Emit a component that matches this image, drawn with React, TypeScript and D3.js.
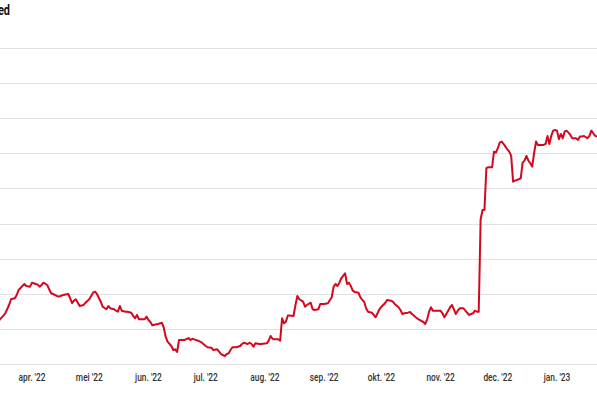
import React from "react";
import * as d3 from "d3";

// days since 15 March 2022
const days = [0,3,5,6,8,9,10,12,13,14,16,17,19,20,21,22,23,25,26,27,28,30,31,33,34,36,37,38,39,40,41,42,44,45,47,49,50,51,53,54,56,57,58,60,61,62,63,64,66,67,69,70,71,72,73,74,76,77,78,79,80,81,83,85,86,87,88,90,91,92,93,94,95,97,99,100,101,102,104,106,108,109,111,112,114,115,116,118,119,120,121,122,124,126,127,128,130,131,132,133,134,136,137,140,141,142,143,144,146,147,148,149,150,151,152,154,155,156,157,159,160,161,163,164,165,167,168,170,172,174,175,176,177,178,179,180,181,182,183,184,185,186,188,189,190,191,192,193,195,196,197,198,199,200,202,203,205,206,207,209,210,211,212,214,215,216,218,219,220,222,223,224,225,226,227,228,229,231,232,233,234,235,236,237,238,239,240,241,243,244,246,247,248,249,250,251,252,253,254,255,256,258,259,260,261,262,263,264,265,266,267,268,269,270,272,273,274,275,276,277,278,279,280,281,282,283,285,286,287,288,289,290,291,292,293,294,295,296,297,298,299,300,302,303,304,305,306,308,309,310,311,312,314];
const values = [6.27,7.22,8.40,9.22,9.36,9.83,10.54,11.11,11.40,11.11,11.01,11.58,11.40,11.30,11.01,11.25,11.58,11.25,10.64,10.07,9.97,9.69,9.59,9.79,9.87,9.97,9.36,8.65,9.02,9.22,8.73,8.26,8.40,8.73,9.22,10.16,10.30,9.97,8.87,8.16,7.79,8.26,7.93,7.79,7.59,7.45,8.26,7.59,7.45,7.45,7.31,6.84,6.51,6.98,6.37,6.37,6.37,6.74,6.27,5.98,5.51,5.60,5.70,5.88,5.23,3.89,3.18,2.56,1.99,2.09,1.71,3.42,3.42,3.42,3.70,3.42,3.60,3.50,3.32,3.03,2.56,2.38,2.32,1.99,2.09,1.75,1.42,1.14,1.42,1.52,1.99,2.38,2.38,2.56,2.85,3.03,2.85,3.03,2.85,2.46,2.95,2.85,2.85,2.95,3.32,3.99,3.60,3.52,3.52,3.32,6.51,5.80,6.03,6.90,6.90,6.84,8.40,9.69,9.22,8.87,8.16,8.40,8.73,7.79,7.69,7.79,8.55,8.55,8.65,9.50,11.01,11.40,11.11,11.58,12.21,12.54,12.92,11.40,11.58,11.11,10.44,10.26,10.16,9.50,9.12,8.87,7.93,7.45,7.31,6.98,6.65,7.22,7.79,8.16,8.69,9.12,9.02,8.87,8.55,8.08,7.69,7.12,7.22,7.31,7.41,7.12,6.65,6.45,6.27,5.98,5.70,6.37,7.45,8.08,7.59,7.59,7.59,7.59,7.22,6.65,7.12,7.59,8.08,8.40,7.79,7.12,7.59,7.93,7.93,7.59,6.98,7.12,7.22,7.59,7.45,7.45,20.61,21.94,21.94,27.88,28.02,28.02,30.24,30.10,30.73,31.52,31.67,31.34,30.95,30.58,30.24,29.63,25.97,26.11,26.31,26.45,28.68,28.96,29.63,28.96,28.59,28.11,30.01,31.67,31.20,31.20,31.20,31.34,32.48,31.34,32.48,33.23,33.33,33.23,32.01,32.76,32.15,33.09,33.23,32.95,32.62,32.15,32.15,31.91,32.38,32.38,32.48,32.15,32.48,33.23,32.86,32.48,32.30];

const yTicks = [0, 5, 10, 15, 20, 25, 30, 35, 40, 45];
const monthTicks = ["2022-04-01","2022-05-01","2022-06-01","2022-07-01","2022-08-01","2022-09-01","2022-10-01","2022-11-01","2022-12-01","2023-01-01"];
const monthLabels = ["apr. '22","mei '22","jun. '22","jul. '22","aug. '22","sep. '22","okt. '22","nov. '22","dec. '22","jan. '23"];
const title = "ed";

const W = 597, H = 398;

export default function App() {
  const base = new Date(2022, 2, 15);
  const parse = (s: string) => { const [y, m, d] = s.split("-").map(Number); return new Date(y, m - 1, d); };
  const x = d3.scaleTime().domain([new Date(2022, 3, 1), new Date(2023, 0, 1)]).range([32, 557]);
  const y = d3.scaleLinear().domain([0, 45]).range([364, 48]);
  const data = days.map((d, i) => ({ date: d3.timeDay.offset(base, d), v: values[i] }));
  const line = d3.line<{ date: Date; v: number }>().x(d => x(d.date)).y(d => y(d.v));
  const font = "Roboto, 'Noto Sans', sans-serif";
  return (
    <svg width={W} height={H} style={{ position: "absolute", left: 0, top: 0, background: "#fff" }}>
      <rect width={W} height={H} fill="#fff" />
      <text transform="translate(10,15) scale(0.78,1)" textAnchor="end" fontFamily={font} fontWeight="bold" fontSize={14} fill="#111">{title}</text>
      {yTicks.map(t => (
        <line key={t} x1={0} x2={W} y1={Math.round(y(t)) + 0.5} y2={Math.round(y(t)) + 0.5} stroke="#e2e2e2" strokeWidth={1.2} />
      ))}
      {monthTicks.map((m, i) => (
        <text key={m} transform={`translate(${x(parse(m))},381) scale(0.76,1)`} textAnchor="middle" fontFamily={font} fontWeight={500} fontSize={11} fill="#333">{monthLabels[i]}</text>
      ))}
      <path d={line(data) || ""} fill="none" stroke="#d3091f" strokeWidth={2} strokeLinejoin="round" strokeLinecap="round" />
    </svg>
  );
}
